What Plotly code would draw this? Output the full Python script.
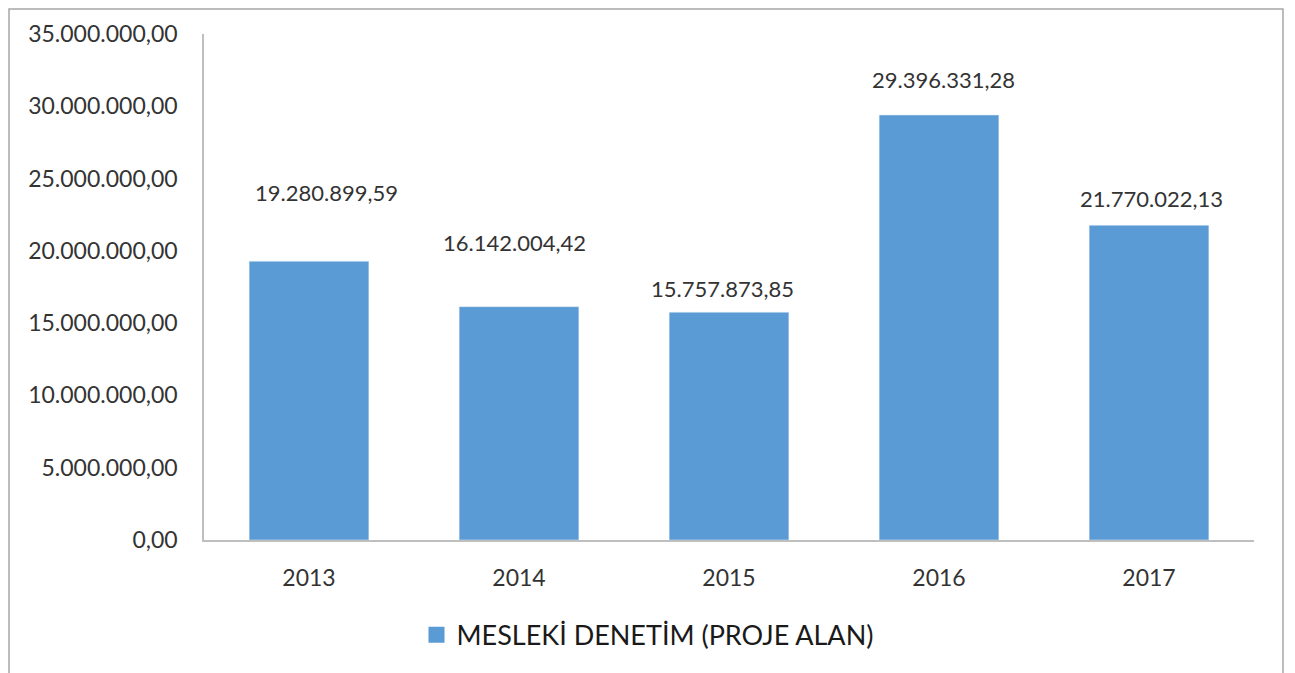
import plotly.graph_objects as go

# Daten
yillar = ["2013", "2014", "2015", "2016", "2017"]
degerler = [19280899.59, 16142004.42, 15757873.85, 29396331.28, 21770022.13]
etiketler = ["19.280.899,59", "16.142.004,42", "15.757.873,85", "29.396.331,28", "21.770.022,13"]
y_ticks = [0, 5000000, 10000000, 15000000, 20000000, 25000000, 30000000, 35000000]
y_tick_text = ["0,00", "5.000.000,00", "10.000.000,00", "15.000.000,00", "20.000.000,00",
               "25.000.000,00", "30.000.000,00", "35.000.000,00"]
seri_adi = "MESLEKİ DENETİM (PROJE ALAN)"

# label offsets (pixel) as in the original
etiket_yshift = [69, 64, 24, 36, 27]
etiket_xshift = [17, -5, -7, 4, 2]

font = "Lato"
text_renk = "#333333"
bar_renk = "#5B9BD5"

fig = go.Figure()
fig.add_trace(go.Bar(x=yillar, y=degerler, name=seri_adi, marker_color=bar_renk,
                     showlegend=False))
# nur fuer die legende (groesseres quadrat)
fig.add_trace(go.Scatter(x=[None], y=[None], mode="markers", name=seri_adi,
                         marker=dict(symbol="square", size=16, color=bar_renk)))

# annotation x als index, sonst nimmt plotly "2013" als kategorie-nummer
for i, (y, t) in enumerate(zip(degerler, etiketler)):
    fig.add_annotation(x=i, y=y, text=t, showarrow=False, yanchor="middle",
                       yshift=etiket_yshift[i], xshift=etiket_xshift[i],
                       font=dict(family=font, size=22, color=text_renk))

# rahmen um das ganze diagramm
fig.add_shape(type="rect", xref="paper", yref="paper", x0=-0.1857, x1=1.0276, y0=-0.4, y1=1.0494,
              line=dict(color="#A6A6A6", width=1.5), layer="below")

fig.update_xaxes(type="category", range=[-0.5, 4.5], showline=True, linecolor="#BFBFBF",
                 linewidth=1.5, ticks="", ticklabelstandoff=17,
                 tickfont=dict(family=font, size=23, color=text_renk))
fig.update_yaxes(range=[0, 35000000], tickvals=y_ticks, ticktext=y_tick_text, showgrid=False,
                 zeroline=False, showline=True, linecolor="#BFBFBF", linewidth=1.5, ticks="",
                 ticklabelstandoff=20, tickfont=dict(family=font, size=23, color=text_renk))
fig.update_layout(width=1279, height=665, plot_bgcolor="white", paper_bgcolor="white",
                  bargap=0.43, margin=dict(l=196, r=33, t=26, b=133),
                  legend=dict(orientation="h", xref="container", x=0.5, xanchor="center",
                              yref="container", y=0.057, yanchor="middle",
                              font=dict(family=font, size=27, color="#1a1a1a")))
fig.write_html("out.html")
